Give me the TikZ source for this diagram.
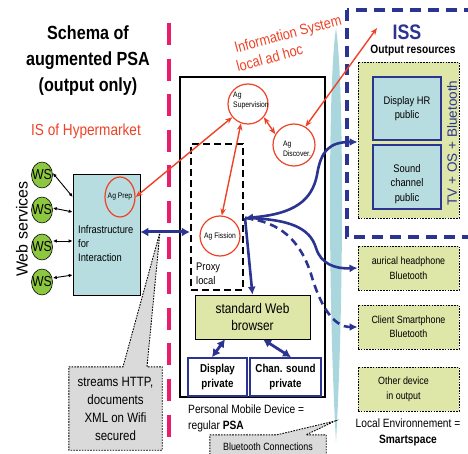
\documentclass[tikz,border=0pt]{standalone}
\usepackage{fontspec}
\setmainfont{Liberation Sans}
\newfontfamily\cond{Liberation Sans}[FakeStretch=0.85]
\usetikzlibrary{arrows.meta,shapes.geometric}

\definecolor{hotred}{RGB}{238,66,38}
\definecolor{pinkdash}{RGB}{232,30,108}
\definecolor{navy}{RGB}{44,52,146}
\definecolor{paleblue}{RGB}{183,221,224}
\definecolor{paleyellow}{RGB}{222,230,168}
\definecolor{wsgreen}{RGB}{141,198,63}
\definecolor{lensteal}{RGB}{170,215,221}
\definecolor{callgray}{RGB}{218,218,218}

\newcommand{\fsz}[2]{\fontsize{#1}{#2}\selectfont}

\tikzset{
  agent/.style={circle, draw=hotred, line width=1.2pt, fill=white, minimum size=40pt, inner sep=0pt},
  agtext/.style={font=\cond\fsz{8}{10.5}, align=left, inner sep=0pt},
  redlink/.style={draw=hotred, line width=1.4pt, {Stealth[length=7pt,width=5.5pt]}-{Stealth[length=7pt,width=5.5pt]}},
  wslink/.style={draw=black, line width=0.9pt, {Latex[length=4pt,width=3.5pt]}-{Latex[length=4pt,width=3.5pt]}},
  bluelink/.style={draw=navy, line width=2.6pt, -{Latex[length=8pt,width=8pt]}},
  bluedash/.style={bluelink, dash pattern=on 8pt off 5pt},
  bluedouble/.style={draw=navy, line width=3pt, {Latex[length=8pt,width=9pt]}-{Latex[length=8pt,width=9pt]}},
  dotbox/.style={rectangle, draw=black, fill=paleyellow, line width=0.9pt, dash pattern=on 1.6pt off 1.2pt, inner sep=0pt},
  devbox/.style={rectangle, draw=navy, line width=1.6pt, inner sep=0pt},
  calloutline/.style={draw=black, fill=callgray, line width=0.9pt, dash pattern=on 1.6pt off 1.2pt},
  slanted/.style={font=\cond\fsz{15}{15}, text=hotred, rotate=15, anchor=base west, inner sep=0pt},
  wsnode/.style={ellipse, draw=black, line width=0.6pt, fill=wsgreen, minimum width=21pt, minimum height=26pt, inner sep=0pt,
    label={[font=\cond\fsz{14.5}{14.5}, inner sep=0pt]center:WS}},
}

\begin{document}
\begin{tikzpicture}[x=1pt, y=-1pt]
\useasboundingbox (0,0) rectangle (468,454);
\clip (0,0) rectangle (468,454);

% Bluetooth channel (lens shape) and the hypermarket boundary
\fill[lensteal] (336,28) .. controls (328,80) and (328,300) .. (336,442)
                .. controls (344,300) and (344,80) .. (336,28) -- cycle;
\draw[pinkdash, line width=4.5pt, dash pattern=on 22pt off 13.6pt] (169,23) -- (169,437);

% Titles
\node[font=\cond\bfseries\fsz{19}{26}, align=center] (title) at (88,61) {Schema of\\augmented PSA\\(output only)};
\node[font=\cond\fsz{16}{16}, text=hotred] (ishyper) at (86,131) {IS of Hypermarket};
\node[slanted] (infosys) at (236,53) {Information System};
\node[slanted] (adhoc) at (238,72) {local ad hoc};
\node[font=\fsz{16}{16}, rotate=90] (websvc) at (22,229) {Web services};

% Hypermarket side
\node[rectangle, draw=black, line width=0.6pt, fill=paleblue, minimum width=67pt, minimum height=121pt, inner sep=0pt] (infra) at (106.5,234.5) {};
\node[font=\cond\fsz{11}{14}, align=left, anchor=west, inner sep=0pt] (infratext) at (78,244) {Infrastructure\\for\\Interaction};
\node[ellipse, draw=hotred, line width=1.2pt, minimum width=30pt, minimum height=40pt, inner sep=0pt,
  label={[font=\cond\fsz{8}{8}, inner sep=0pt]center:Ag Prep}] (agprep) at (120,197) {};

\node[wsnode] (ws1) at (42,175) {};
\node[wsnode] (ws2) at (42,210) {};
\node[wsnode] (ws3) at (42,247) {};
\node[wsnode] (ws4) at (42,282) {};
\draw[wslink] (ws1.east |- 0,173) -- (infra.west |- 0,197);
\draw[wslink] (ws2.east |- 0,208) -- (infra.west |- 0,212);
\draw[wslink] (ws3.east |- 0,241) -- (infra.west |- 0,241);
\draw[wslink] (ws4.east |- 0,278) -- (infra.west |- 0,275);

% Personal mobile device
\node[rectangle, draw=black, line width=1.6pt, minimum width=145pt, minimum height=320pt, inner sep=0pt] (psa) at (252.5,237) {};
\node[rectangle, draw=black, line width=2.2pt, dash pattern=on 7pt off 4pt, minimum width=52pt, minimum height=146pt, inner sep=0pt] (proxy) at (217,217) {};
\node[font=\cond\fsz{11}{14}, align=left, anchor=west, inner sep=0pt] (proxytext) at (196,274) {Proxy\\local};

\node[agent, label={[agtext, xshift=3pt, yshift=3.5pt]center:Ag\\Supervision}] (sup) at (248,104) {};
\node[agent, minimum size=42pt, label={[agtext, xshift=3pt, yshift=-4pt]center:Ag\\Discover.}] (discover) at (294,145) {};
\node[agent, label={[agtext]center:Ag Fission}] (fission) at (220,236) {};

\node[rectangle, draw=black, line width=0.6pt, fill=paleyellow, minimum width=115pt, minimum height=44pt, inner sep=0pt,
  font=\cond\fsz{14}{17}, align=center] (browser) at (252.5,317) {standard Web\\browser};
\node[devbox, minimum width=59pt, minimum height=38pt, font=\cond\bfseries\fsz{11.5}{15}, align=center] (display) at (217.5,377) {Display\\private};
\node[devbox, minimum width=71pt, minimum height=38pt, font=\cond\bfseries\fsz{11.5}{15}, align=center] (chan) at (285.5,377) {Chan. sound\\private};

\node[font=\cond\fsz{12}{16}, align=left, anchor=west, inner sep=0pt] (psalabel) at (188,418) {Personal Mobile Device =\\regular \textbf{PSA}};

% Interactive Smart Space
\draw[navy, line width=3.5pt, dash pattern=on 11pt off 7pt] (347,10) rectangle (490,237);
\node[font=\cond\bfseries\fsz{21}{21}, text=navy, inner sep=0pt] (iss) at (407,32) {ISS};
\node[font=\cond\bfseries\fsz{12}{12}, inner sep=0pt] (outlabel) at (413,51) {Output resources};
\node[dotbox, minimum width=101pt, minimum height=156pt] (outres) at (408.5,140) {};
\node[devbox, fill=paleblue, minimum width=68pt, minimum height=63pt, font=\cond\fsz{11}{14}, align=center] (disphr) at (407,108.5) {Display HR\\public};
\node[devbox, fill=paleblue, minimum width=68pt, minimum height=64pt,
  label={[font=\cond\fsz{11}{14.5}, align=center, yshift=-7pt]center:Sound\\channel\\public}] (sound) at (407,177) {};
\node[font=\fsz{13.5}{14}, text=navy, rotate=90, inner sep=0pt] (tvos) at (452,143) {TV + OS + Bluetooth};

% Local environment devices
\node[dotbox, minimum width=101pt, minimum height=44pt, font=\cond\fsz{10.5}{15}, align=center] (aurical) at (408.5,268) {aurical headphone\\Bluetooth};
\node[dotbox, minimum width=101pt, minimum height=44pt, font=\cond\fsz{10.5}{14}, align=center] (client) at (408.5,327) {Client Smartphone\\Bluetooth};
\node[dotbox, minimum width=101pt, minimum height=44pt,
  label={[font=\cond\fsz{10.5}{15}, align=center, xshift=-5pt]center:Other device\\in output}] (other) at (408.5,389) {};
\node[font=\cond\fsz{12}{16}, align=center, inner sep=0pt] (envlabel) at (408,432) {Local Environnement =\\\textbf{Smartspace}};

% Callouts
\coordinate (wifi) at (160,232);
\node[minimum width=93pt, minimum height=83pt, inner sep=0pt] (streams) at (115.5,408.5) {};
\path[calloutline] (streams.north west) -- ([xshift=7.5pt]streams.north) -- (wifi)
  -- ([xshift=31.5pt]streams.north) -- (streams.north east) -- (streams.south east)
  -- (streams.south west) -- cycle;
\node[font=\cond\fsz{13.5}{18}, align=center] (streamstext) at (streams) {streams HTTP,\\documents\\XML on Wifi\\secured};

\coordinate (btlink) at (335,421);
\node[minimum width=116pt, minimum height=27pt, inner sep=0pt] (btbox) at (268,448.5) {};
\path[calloutline] (btbox.north west) -- ([xshift=9pt]btbox.north) -- (btlink)
  -- ([xshift=38pt]btbox.north) -- (btbox.north east) -- (btbox.south east)
  -- (btbox.south west) -- cycle;
\node[font=\cond\fsz{10.5}{10.5}, inner sep=0pt] (bttext) at (268,447) {Bluetooth Connections};

% Agent links
\coordinate (issin) at (377,28);
\draw[redlink] (agprep.east) -- (sup.220);
\draw[redlink] (sup.250) -- (fission.85);
\draw[redlink] (sup.320) -- (discover.150);
\draw[redlink] (discover.58) -- (issin);

% Output streams from the proxy
\coordinate (hub) at (245,218);
\draw[bluedouble] (infra.east |- 0,232) -- (proxy.west |- 0,232);
\draw[draw=navy, line width=2.6pt, {Latex[length=8pt,width=8pt]}-{Latex[length=8pt,width=8pt]}]
  (hub) .. controls (295,214) and (312,200) .. (317,175)
        .. controls (321,150) and (330,142) .. (outres.west |- 0,142);
\draw[bluelink] (hub) .. controls (290,219) and (310,228) .. (316,248)
        .. controls (321,264) and (335,269) .. (aurical.west);
\draw[bluedash] (hub) .. controls (280,222) and (300,240) .. (311,274)
        .. controls (320,305) and (333,327) .. (client.west);
\draw[bluelink] (hub) -- (browser.north);
\draw[bluedouble, line width=2.8pt] ([xshift=-27.5pt]browser.south) -- ([xshift=-5.5pt]display.north);
\draw[bluedouble, line width=2.8pt] ([xshift=10.5pt]browser.south) -- ([xshift=5.5pt]chan.north);
\end{tikzpicture}
\end{document}
